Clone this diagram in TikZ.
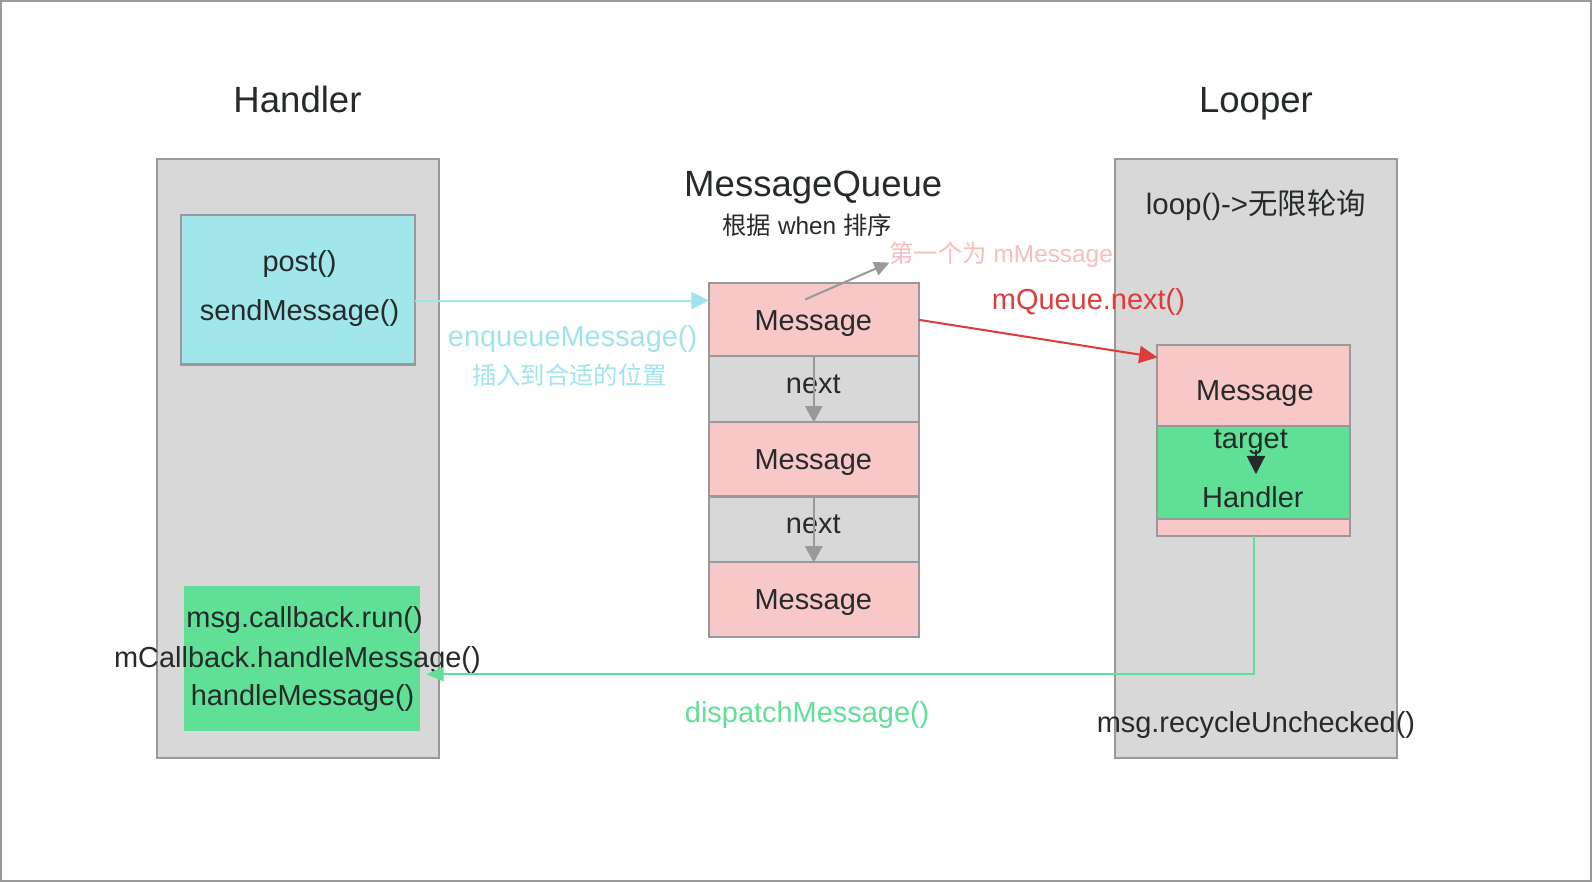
\documentclass[tikz,border=0pt]{standalone}
\usepackage{fontspec}
\setmainfont{Liberation Sans}
\newfontfamily\cjk{Noto Sans CJK SC}
\usetikzlibrary{arrows.meta,calc}
\definecolor{panelgray}{HTML}{D8D8D8}
\definecolor{bordergray}{HTML}{999999}
\definecolor{cyanfill}{HTML}{A1E6EB}
\definecolor{cyanline}{HTML}{9FE4EB}
\definecolor{pinkfill}{HTML}{F8C7C7}
\definecolor{pinktext}{HTML}{F7BCBC}
\definecolor{greenfill}{HTML}{5FE096}
\definecolor{redline}{HTML}{E03B3B}
\definecolor{darktext}{HTML}{262A2A}
\newcommand\fsz[1]{\fontsize{#1}{#1}\selectfont}
\tikzset{
  panel/.style={draw=bordergray, fill=panelgray, line width=2pt, anchor=north west, inner sep=0pt, outer sep=0pt},
  cell/.style={draw=bordergray, line width=2pt, anchor=north west, inner sep=0pt, outer sep=0pt},
  txt/.style={inner sep=0pt, outer sep=0pt, text depth=0pt, text=darktext},
  title/.style={txt, font=\fsz{36}, text height=26pt},
  body/.style={txt, font=\fsz{28.5}, text height=20.5pt},
  small/.style={txt, font=\fsz{24}, text height=17.3pt},
  conn/.style={line width=2pt},
}
\begin{document}
\begin{tikzpicture}[x=1pt,y=-1pt]
\useasboundingbox (0,0) rectangle (1568,869);
\draw[bordergray, line width=2pt] (1,1) rectangle (1567,868);

% Handler column
\node[title] (htitle) at (293,98) {Handler};
\node[panel, minimum width=277pt, minimum height=590pt] (hpanel) at (155,157) {};
\node[cell, fill=cyanfill, minimum width=231pt, minimum height=147pt] (hsend) at (178,212) {};
\node[body] (tpost) at (295,257) {post()};
\node[body] (tsend) at (295,305) {sendMessage()};
\node[anchor=north west, fill=greenfill, inner sep=0pt, minimum width=232pt, minimum height=143pt] (hgreen) at (181,577) {};
\node[body] (tcb) at (300,608) {msg.callback.run()};
\node[body] (tmcb) at (293,647) {mCallback.handleMessage()};
\node[body] (thm) at (298,685) {handleMessage()};

% MessageQueue column
\node[title] (qtitle) at (801,181) {MessageQueue};
\node[small] (qsort) at (795,222) {{\cjk 根据} when {\cjk 排序}};
\node[cell, fill=pinkfill, minimum width=207pt, minimum height=72pt] (q1) at (698,279) {};
\node[cell, fill=panelgray, minimum width=207pt, minimum height=65pt] (n1) at (698,351) {};
\node[cell, fill=pinkfill, minimum width=207pt, minimum height=73pt] (q2) at (698,416) {};
\node[cell, fill=panelgray, minimum width=207pt, minimum height=65pt] (n2) at (698,489) {};
\node[cell, fill=pinkfill, minimum width=207pt, minimum height=73pt] (q3) at (698,554) {};
\node[body] (tq1) at (801,315) {Message};
\node[body] (tn1) at (801,377) {next};
\node[body] (tq2) at (801,452) {Message};
\node[body] (tn2) at (801,515) {next};
\node[body] (tq3) at (801,590) {Message};
\draw[conn, bordergray, -{Triangle[length=16pt,width=17pt]}] (n1.north) -- (n1.south);
\draw[conn, bordergray, -{Triangle[length=16pt,width=17pt]}] (n2.north) -- (n2.south);
\node[small, anchor=west, text=pinktext] (first) at (876,250) {{\cjk 第一个为} mMessage};
\coordinate (gstart) at (793,295);
\draw[conn, bordergray, -{Triangle[length=15pt,width=14pt]}] (gstart) -- (first.south west);

% enqueue connector
\coordinate (enqy) at (0,296);
\draw[conn, cyanline, -{Triangle[length=17pt,width=17pt]}] (hsend.east |- enqy) -- (q1.west |- enqy);
\node[body, text=cyanline] (tenq) at (564,331) {enqueueMessage()};
\node[small, text=cyanline] (tins) at (561,370) {\cjk 插入到合适的位置};

% Looper column
\node[title] (ltitle) at (1237,98) {Looper};
\node[panel, minimum width=278pt, minimum height=590pt] (lpanel) at (1098,157) {};
\node[txt, font=\fsz{29}, text height=21pt] (tloop) at (1237,201) {loop()->{\cjk 无限轮询}};
\node[cell, fill=pinkfill, minimum width=190pt, minimum height=80pt] (lmsg) at (1140,340) {};
\node[cell, fill=greenfill, minimum width=190pt, minimum height=91pt] (ltgt) at (1140,420) {};
\node[cell, fill=pinkfill, minimum width=190pt, minimum height=17pt] (lstrip) at (1140,511) {};
\node[body] (tlmsg) at (1236,384) {Message};
\node[body] (ttgt) at (1232,431) {target};
\node[body] (tlh) at (1234,490) {Handler};
\coordinate (tgtend) at (1237,467);
\coordinate (tgtstart) at (1237,443);
\draw[conn, darktext, -{Triangle[length=18pt,width=18pt]}] (tgtstart) -- (tgtend);

% mQueue.next connector
\coordinate (redend) at (1140,352);
\draw[conn, redline, -{Triangle[length=18pt,width=17pt]}] (q1.east) -- (redend);
\node[body, text=redline] (tnext) at (1072,295) {mQueue.next()};

% dispatch connector
\coordinate (dispend) at (420,664);
\draw[conn, greenfill, -{Triangle[length=17pt,width=14pt]}] (lstrip.south) |- (dispend);
\node[body, text=greenfill] (tdisp) at (795,701) {dispatchMessage()};
\node[body] (trec) at (1237,711) {msg.recycleUnchecked()};
\end{tikzpicture}
\end{document}
